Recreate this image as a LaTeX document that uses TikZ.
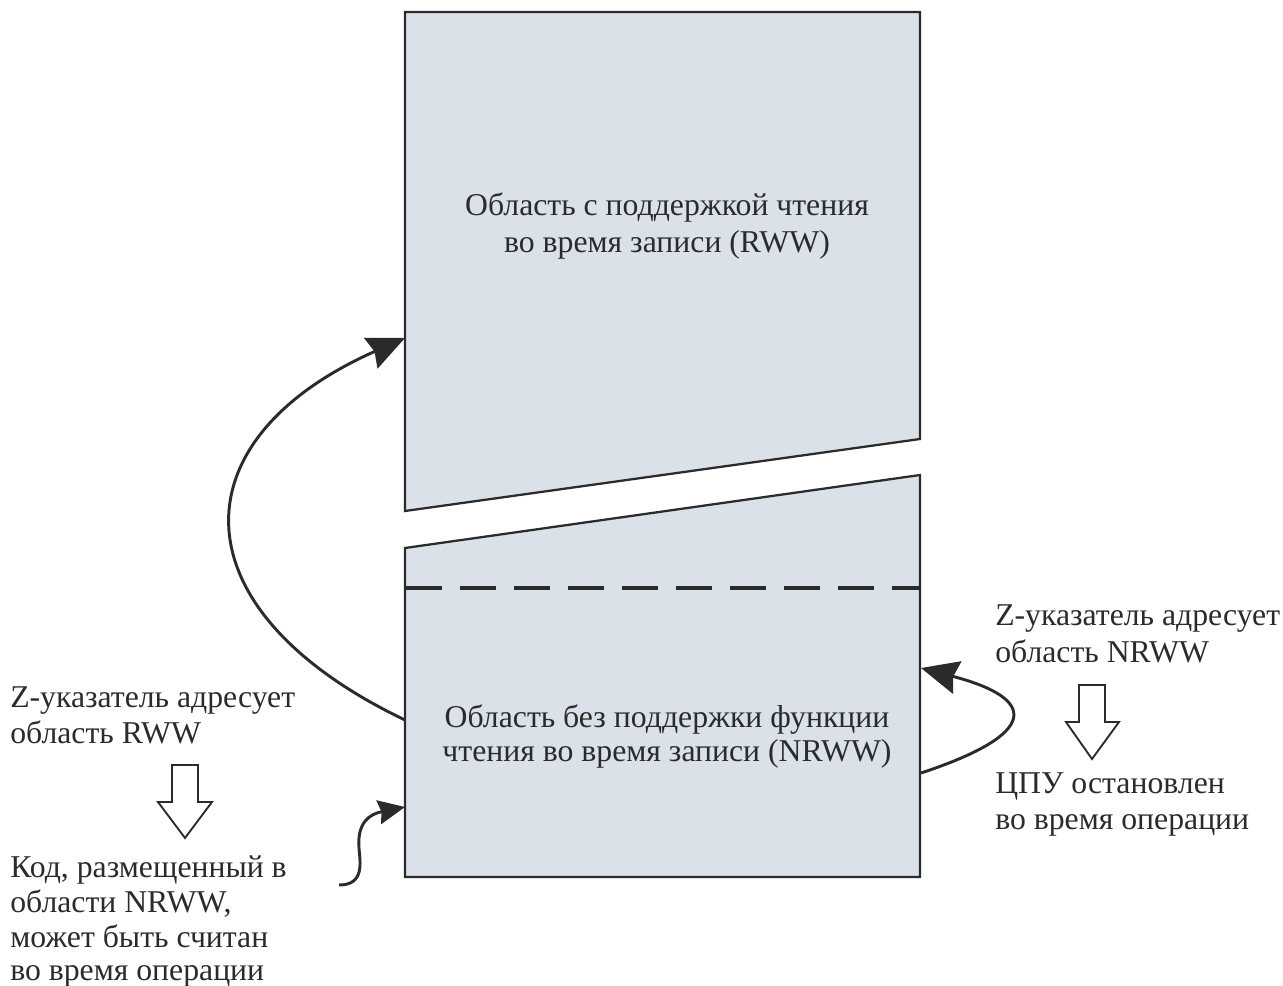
\documentclass[tikz,border=0pt]{standalone}
\usepackage{fontspec}
\setmainfont{Liberation Serif}
\usetikzlibrary{arrows.meta}
\definecolor{boxfill}{HTML}{DAE1E8}
\definecolor{ink}{HTML}{2B2B2B}
\tikzset{
  lbl/.style={inner sep=0pt, text=ink, font=\fontsize{23.8}{28}\selectfont},
  region/.style={draw=ink, fill=boxfill, line width=1.7pt, line join=miter},
  flow/.style={draw=ink, line width=2.2pt, -{Stealth[length=28pt, width=25pt, inset=3pt]}},
  smallflow/.style={draw=ink, line width=2.2pt, -{Stealth[length=20pt, width=18pt, inset=2pt]}},
  hollow/.style={draw=ink, fill=white, line width=1.4pt, line join=miter},
  sep/.style={draw=ink, line width=2.6pt, dash pattern=on 27pt off 13.5pt, dash phase=-1pt},
}
\begin{document}
\begin{tikzpicture}[x=0.75pt, y=-0.75pt]
\useasboundingbox (0,0) rectangle (1283,986);
% upper region (RWW)
\path[region] (405,12) -- (920,12) -- (920,439) -- (405,511) -- cycle;
% lower region (NRWW)
\path[region] (405,548) -- (920,475) -- (920,877) -- (405,877) -- cycle;
\draw[sep] (405,588) -- (920,588);
% named points on the regions
\coordinate (rwwIn) at (405,338);
\coordinate (nrwwOut) at (405,720);
\coordinate (nrwwIn) at (405,807);
\coordinate (nrwwRin) at (921,668);
\coordinate (nrwwRout) at (921,773);
\coordinate (tail) at (339,885);
% texts
\node[lbl, anchor=base] (t1) at (667,215) {Область с поддержкой чтения};
\node[lbl, anchor=base] (t2) at (667,252) {во время записи (RWW)};
\node[lbl, anchor=base] (t3) at (667,727) {Область без поддержки функции};
\node[lbl, anchor=base] (t4) at (667,761) {чтения во время записи (NRWW)};
\node[lbl, anchor=base west] (l1) at (10,707) {Z-указатель адресует};
\node[lbl, anchor=base west] (l2) at (10,743) {область RWW};
\node[lbl, anchor=base west] (l3) at (10,877) {Код, размещенный в};
\node[lbl, anchor=base west] (l4) at (10,912) {области NRWW,};
\node[lbl, anchor=base west] (l5) at (10,947) {может быть считан};
\node[lbl, anchor=base west] (l6) at (10,980) {во время операции};
\node[lbl, anchor=base west] (r1) at (995,625) {Z-указатель адресует};
\node[lbl, anchor=base west] (r2) at (995,662) {область NRWW};
\node[lbl, anchor=base west] (r3) at (995,793) {ЦПУ остановлен};
\node[lbl, anchor=base west] (r4) at (995,829) {во время операции};
% connectors
\draw[flow] (nrwwOut) .. controls (175,610) and (175,440) .. (rwwIn);
\draw[flow] (nrwwRout) .. controls (1039,734) and (1039,699) .. (nrwwRin);
\draw[smallflow] (tail) .. controls (365,885) and (360,862) .. (359,848)
  .. controls (357,822) and (370,814) .. (nrwwIn);
% hollow arrows
\path[hollow] (172,765) -- (198,765) -- (198,802) -- (212,802) -- (185,838)
  -- (158,802) -- (172,802) -- cycle;
\path[hollow] (1079,685) -- (1105,685) -- (1105,722) -- (1119,722) -- (1092,759)
  -- (1066,722) -- (1079,722) -- cycle;
\end{tikzpicture}
\end{document}
